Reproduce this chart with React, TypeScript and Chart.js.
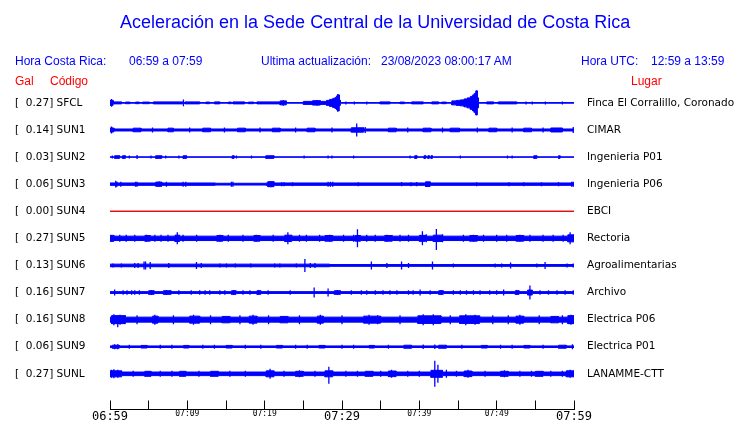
import React, { useEffect, useRef } from "react";
import { Chart, registerables } from "chart.js";

Chart.register(...registerables);

// ---------- data ----------
const CODES = ["SFCL", "SUN1", "SUN2", "SUN3", "SUN4", "SUN5", "SUN6", "SUN7", "SUN8", "SUN9", "SUNL"];
const GAL = [0.27, 0.14, 0.03, 0.06, 0.0, 0.27, 0.13, 0.16, 0.16, 0.06, 0.27];
const PLACES = [
  "Finca El Corralillo, Coronado",
  "CIMAR",
  "Ingenieria P01",
  "Ingenieria P06",
  "EBCI",
  "Rectoria",
  "Agroalimentarias",
  "Archivo",
  "Electrica P06",
  "Electrica P01",
  "LANAMME-CTT",
];
// time axis (minutes after 06:59)
const TICK_MINUTES = [0, 5, 10, 15, 20, 25, 30, 35, 40, 45, 50, 55, 60];
const TIME_LABELS: Record<number, string> = {
  0: "06:59", 10: "07:09", 20: "07:19", 30: "07:29", 40: "07:39", 50: "07:49", 60: "07:59",
};
const MAJOR_MINUTES = [0, 30, 60];

// background noise half-amplitude per station
const BASE_AMP = [0.3, 1.0, 0.2, 1.2, 0, 2.2, 0.9, 0.9, 2.5, 0.8, 1.8];

// blocks: [startMin, endMin, halfAmp]
const SFCL_BLOCKS: [number, number, number][] = [
  [0, 0.4, 2.5], [0.4, 1.5, 1], [2.0, 2.6, 0.8], [3.3, 3.8, 0.8], [4.2, 5.1, 0.8], [5.6, 9.4, 1],
  [9.7, 11.6, 1], [12.4, 12.9, 0.8], [13.5, 14.2, 1], [15.3, 15.7, 0.8], [15.9, 17.4, 1], [17.9, 18.6, 0.8],
  [19.0, 22.0, 1], [22.0, 22.8, 2], [25.0, 26.2, 1.5], [26.2, 27.2, 2.2], [27.2, 28.0, 1.5],
  [28.0, 28.4, 2.5], [28.4, 28.8, 3.5], [28.8, 29.1, 4.5], [29.1, 29.3, 5.5], [29.3, 29.5, 7],
  [29.5, 29.65, 8], [29.65, 29.8, 2.5], [34.9, 36.2, 1], [37.5, 38.1, 0.8], [39.0, 40.5, 1],
  [41.6, 42.5, 1], [42.9, 43.5, 0.8], [44.2, 44.8, 2], [44.8, 45.3, 2.5], [45.3, 45.8, 3],
  [45.8, 46.2, 4], [46.2, 46.6, 5], [46.6, 46.9, 6.5], [46.9, 47.1, 8], [47.1, 47.3, 9.5],
  [47.3, 47.5, 12], [47.5, 47.65, 5], [48.7, 49.6, 1], [50.2, 52.6, 1],
];
const SUN1_BLOCKS: [number, number, number][] = [
  [0, 0.5, 2], [3.0, 4.0, 1.8], [7.5, 8.2, 1.8], [12.0, 13.0, 1.8], [16.5, 17.5, 1.8], [21.0, 22.0, 1.8],
  [25.5, 26.5, 1.8], [31.2, 32.8, 2.2], [36.0, 37.0, 1.8], [40.5, 41.5, 1.8], [44.0, 45.2, 1.8],
  [49.0, 50.0, 1.8], [53.5, 54.5, 1.8], [57.0, 58.5, 2],
];
const SUN2_BLOCKS: [number, number, number][] = [
  [0.6, 1.25, 1.3], [1.6, 2.0, 1.3], [5.9, 6.7, 1.3], [9.45, 9.9, 1.3], [15.8, 16.05, 1.3], [20.15, 21.2, 1.3],
  [39.4, 39.7, 1.3], [40.6, 40.85, 1.3], [41.1, 41.3, 1.3], [41.5, 41.7, 1.3], [54.8, 55.2, 1.3], [58.0, 58.2, 1.3],
];
const SUN3_BLOCKS: [number, number, number][] = [
  [5.9, 6.7, 2.0], [13.6, 20.2, 0.9], [20.4, 21.2, 2.5], [40.8, 41.4, 2.3],
];
const SUN4_BLOCKS: [number, number, number][] = [];
const SUN5_BLOCKS: [number, number, number][] = [
  [0, 0.5, 3], [4.5, 5.2, 2.8], [8.4, 9.0, 3.2], [13.8, 14.6, 2.8], [18.6, 19.4, 2.8], [22.6, 23.5, 3.2],
  [27.8, 28.8, 2.8], [31.7, 32.4, 2.8], [35.5, 36.5, 2.8], [40.0, 40.8, 3], [41.8, 43.0, 3.2],
  [46.5, 47.5, 2.8], [52.5, 53.5, 2.8], [59.2, 60, 3.5],
];
const SUN6_BLOCKS: [number, number, number][] = [[0, 28.4, 1.3]];
const SUN7_BLOCKS: [number, number, number][] = [
  [5.0, 5.7, 1.8], [6.9, 7.9, 1.8], [15.7, 16.3, 1.8], [19.0, 19.5, 1.8], [29.0, 29.8, 1.8],
  [42.5, 43.1, 1.8], [52.4, 52.9, 1.8], [54.0, 54.6, 2.5],
];
const SUN8_BLOCKS: [number, number, number][] = [
  [0.2, 2.0, 4], [5.5, 6.2, 3.5], [10.3, 11.6, 3.5], [14.5, 15.5, 3.2], [18.0, 19.0, 3.5], [22.0, 23.0, 3.2],
  [26.8, 27.6, 3.5], [32.8, 35.0, 3.5], [39.8, 42.8, 3.8], [45.2, 47.8, 3.8], [52.5, 53.5, 3.5],
  [57.0, 58.0, 3.2], [59.2, 60, 4],
];
const SUN9_BLOCKS: [number, number, number][] = [
  [0.3, 1.2, 1.5], [4.0, 4.8, 1.3], [9.5, 10.2, 1.3], [15.0, 15.8, 1.3], [21.5, 22.3, 1.3], [27.0, 27.8, 1.3],
  [33.5, 34.2, 1.3], [38.0, 39.0, 1.5], [42.5, 43.5, 1.5], [48.0, 48.8, 1.3], [53.5, 54.3, 1.3], [58.0, 59.0, 1.5],
];
const SUNL_BLOCKS: [number, number, number][] = [
  [0, 1.5, 3], [4.5, 5.3, 2.5], [9.0, 9.8, 2.5], [13.0, 14.0, 2.5], [20.2, 21.2, 3], [24.0, 25.0, 2.5],
  [27.8, 28.8, 3], [33.0, 34.0, 2.5], [36.0, 37.0, 2.8], [41.5, 43.0, 3.5], [45.8, 46.8, 2.8],
  [50.5, 51.5, 2.5], [55.0, 56.0, 2.5], [59.0, 60, 3],
];

// spikes: [minute, upAmp, downAmp?]
const SFCL_SPIKES: number[][] = [
  [0.2, 4], [9.5, 3.5], [22.4, 3], [26.8, 3], [29.45, 9], [30.5, 1.5], [31.6, 1.5], [33.2, 1.5],
  [47.4, 12.5], [53.8, 1.5], [54.6, 1.5], [56.3, 1.5], [58.5, 1.5],
];
const SUN1_SPIKES: number[][] = [
  [0.2, 3.5], [5.5, 2.5], [10.3, 2.5], [14.8, 2.5], [19.4, 2.5], [24.0, 2.5], [28.7, 2.5], [31.9, 6.5],
  [33.0, 3], [38.5, 2.5], [43.0, 2.5], [47.5, 2.5], [52.0, 2.5], [56.0, 2.5], [59.9, 3],
];
const SUN2_SPIKES: number[][] = [
  [0.3, 1.5], [2.5, 1.5], [3.5, 2], [5.3, 1.5], [7.2, 1.5], [8.9, 1.5], [16.35, 1.5], [18.3, 1.5],
  [25.1, 1.5], [28.2, 1.5], [28.7, 1.5], [31.5, 1.5], [38.8, 1.5], [45.3, 1.5], [51.4, 1.5], [52.0, 1.5],
];
const SUN3_SPIKES: number[][] = [
  [0.74, 3.3], [0.9, 2.5], [1.4, 2.5], [3.3, 2.5], [3.5, 2.5], [6.1, 2.5], [6.35, 2.8], [6.6, 2.5],
  [7.3, 2.5], [9.45, 2.5], [9.8, 2.5], [15.7, 2.5], [15.9, 2.5], [20.8, 3], [22.2, 2], [22.5, 2],
  [23.6, 2], [28.2, 2.5], [28.5, 2.5], [28.8, 2.5], [32.1, 2], [37.7, 2.2], [38.9, 2], [39.65, 2.2],
  [40.9, 2.5], [47.4, 2], [51.6, 2], [53.5, 2], [55.8, 2], [58.0, 2.2], [59.7, 2.5], [59.9, 2.5],
];
const SUN4_SPIKES: number[][] = [];
const SUN5_SPIKES: number[][] = [
  [1.26, 3.5], [2.1, 3.5], [3.2, 3.5], [4.7, 3.5], [5.8, 3.5], [6.6, 3.5], [7.5, 3.5], [8.7, 6],
  [9.45, 3.5], [11.2, 3.5], [14.2, 3.5], [15.3, 3.5], [17.2, 3.5], [18.9, 3.5], [21.1, 3.5], [23.0, 6],
  [24.5, 3.5], [25.4, 3.5], [27.1, 3.5], [28.4, 3.5], [30.2, 3.5], [31.5, 3.5], [32.0, 9], [33.2, 3.5],
  [34.3, 3.5], [35.8, 3.5], [37.5, 3.5], [38.6, 3.5], [40.4, 7], [40.9, 4], [42.2, 9.3, 11.7], [43.0, 4],
  [45.7, 3.5], [47.0, 3.5], [48.3, 3.5], [50.0, 3.5], [51.3, 3.5], [53.0, 3.5], [54.3, 3.5], [56.0, 3.5],
  [57.3, 3.5], [58.6, 3.5], [59.5, 6],
];
const SUN6_SPIKES: number[][] = [
  [0.39, 2], [1.47, 2], [3.2, 2.5], [3.63, 2.5], [4.4, 4], [4.6, 4], [5.2, 3.5], [7.6, 2.5], [11.18, 3.5],
  [11.8, 2.5], [14.2, 2], [15.06, 2], [16.2, 2], [18.2, 2], [21.3, 2], [21.96, 2], [24.1, 2], [25.2, 6.5],
  [25.9, 2.5], [26.5, 2.5], [33.8, 4], [35.8, 2.5], [37.7, 4], [38.6, 2.5], [41.7, 4], [44.4, 2],
  [49.8, 2], [50.65, 2], [51.8, 3], [55.2, 2], [56.26, 3.5], [59.1, 2], [59.9, 2],
];
const SUN7_SPIKES: number[][] = [
  [0.6, 3], [1.7, 2.3], [2.2, 2.3], [2.8, 2.3], [3.2, 2.3], [3.8, 2.3], [5.35, 2.5], [7.3, 2.5], [8.9, 2.3],
  [10.5, 2.3], [11.6, 2.3], [12.3, 2.3], [12.9, 2.3], [14.2, 2.3], [14.85, 2.3], [16.0, 2.5], [17.2, 2.3],
  [18.1, 2.3], [19.2, 2.3], [20.45, 2.3], [23.3, 2.3], [26.4, 5], [28.2, 4], [29.4, 2.5], [31.2, 2.3],
  [32.5, 2.3], [33.2, 2.3], [34.3, 2.3], [35.3, 2.3], [36.2, 2.3], [37.1, 2.3], [38.6, 2.3], [39.2, 2.3],
  [40.1, 3], [41.4, 2.3], [42.8, 2.5], [44.4, 2.3], [45.3, 2.3], [46.1, 2.3], [47.0, 2.3], [47.85, 2.3],
  [49.1, 2.3], [50.0, 2.3], [50.9, 3], [52.6, 2.5], [54.3, 7], [55.6, 2.3], [56.7, 2.3], [57.8, 2.3],
  [58.85, 2.3], [59.9, 2.3],
];
const SUN8_SPIKES: number[][] = [
  [0.5, 5.5], [1.0, 4.5, 7.5], [1.3, 5], [3.5, 4.5], [5.8, 5], [8.2, 4.5], [10.8, 5], [13.0, 4.5],
  [16.8, 4.5], [18.5, 5], [20.5, 4.5], [24.5, 4.5], [27.2, 5], [30.0, 4.5], [33.5, 5], [34.6, 4.5],
  [37.5, 4.5], [40.5, 5.5], [41.8, 5.5], [44.0, 4.5], [46.0, 5.5], [47.2, 5], [49.5, 4.5], [51.5, 4.5],
  [53.0, 5], [55.5, 4.5], [58.5, 4.5], [59.6, 5],
];
const SUN9_SPIKES: number[][] = [
  [0.6, 2.5], [1.0, 2.5], [2.5, 2], [6.5, 2], [8.0, 2], [12.0, 2], [13.5, 2], [17.5, 2], [19.5, 2],
  [24.0, 2], [25.5, 2], [30.0, 2], [31.5, 2], [36.0, 2], [40.5, 2.2], [42.0, 2.2], [45.5, 2], [50.5, 2],
  [52.0, 2], [56.0, 2], [59.8, 2.5],
];
const SUNL_SPIKES: number[][] = [
  [0.2, 4], [0.5, 4.5], [1.0, 4], [3.0, 3], [6.5, 3], [8.0, 3], [11.5, 3], [15.5, 3], [17.5, 3],
  [20.7, 5], [22.5, 3], [24.5, 3.5], [26.5, 3], [28.3, 7, 10], [30.5, 3], [32.0, 3], [35.0, 3],
  [36.4, 4], [38.5, 3], [40.0, 3], [42.0, 13, 13], [42.4, 9], [43.5, 4], [44.8, 3], [46.3, 4],
  [48.5, 3], [51.0, 3.5], [53.0, 3], [54.5, 3], [57.0, 3], [58.5, 3], [59.5, 4],
];

const BLOCKS = [SFCL_BLOCKS, SUN1_BLOCKS, SUN2_BLOCKS, SUN3_BLOCKS, SUN4_BLOCKS, SUN5_BLOCKS, SUN6_BLOCKS, SUN7_BLOCKS, SUN8_BLOCKS, SUN9_BLOCKS, SUNL_BLOCKS];
const SPIKES = [SFCL_SPIKES, SUN1_SPIKES, SUN2_SPIKES, SUN3_SPIKES, SUN4_SPIKES, SUN5_SPIKES, SUN6_SPIKES, SUN7_SPIKES, SUN8_SPIKES, SUN9_SPIKES, SUNL_SPIKES];

// ---------- styling ----------
const AMP_PER_ROW = 27.1;
const WAVE_BLUE = "#0000ff";
const FLAT_RED = "#dd0000";
const TEXT_BLUE = "#0000ff";
const TEXT_RED = "#ff0000";

function buildDatasets() {
  const sets: any[] = [];
  CODES.forEach((code, row) => {
    const color = GAL[row] === 0 ? FLAT_RED : WAVE_BLUE;
    const base = BASE_AMP[row];
    const band = (sign: number) => {
      const yb = row + (sign * base) / AMP_PER_ROW;
      const pts: { x: number; y: number }[] = [{ x: 0, y: yb }];
      for (const [s, e, a] of BLOCKS[row]) {
        const ya = row + (sign * a) / AMP_PER_ROW;
        pts.push({ x: s, y: yb }, { x: s, y: ya }, { x: e, y: ya }, { x: e, y: yb });
      }
      pts.push({ x: 60, y: yb });
      return pts;
    };
    sets.push({
      label: code + "-up",
      data: band(-1),
      borderColor: color,
      backgroundColor: color,
      borderWidth: 1,
      pointRadius: 0,
      tension: 0,
      fill: "+1",
    });
    sets.push({
      label: code + "-down",
      data: band(1),
      borderColor: color,
      backgroundColor: color,
      borderWidth: 1,
      pointRadius: 0,
      tension: 0,
      fill: false,
    });
    const sp: { x: number; y: number | null }[] = [];
    for (const s of SPIKES[row]) {
      const up = s[1];
      const down = s.length > 2 ? s[2] : s[1];
      sp.push({ x: s[0], y: row - up / AMP_PER_ROW });
      sp.push({ x: s[0], y: row + down / AMP_PER_ROW });
      sp.push({ x: s[0], y: null });
    }
    sets.push({
      label: code + "-spikes",
      data: sp,
      borderColor: color,
      borderWidth: 1.3,
      pointRadius: 0,
      spanGaps: false,
      fill: false,
    });
  });
  return sets;
}

const ROWS = CODES.map((_, i) => i);

export default function App() {
  const ref = useRef<HTMLCanvasElement | null>(null);

  useEffect(() => {
    if (!ref.current) return;
    const chart = new Chart(ref.current, {
      type: "line",
      data: { datasets: buildDatasets() },
      options: {
        animation: false,
        responsive: false,
        events: [],
        layout: { padding: { left: 15, right: 0, top: 81.2, bottom: 0 } },
        plugins: { legend: { display: false }, tooltip: { enabled: false }, title: { display: false } },
        scales: {
          x: {
            type: "linear",
            min: 0,
            max: 60,
            afterBuildTicks: (scale: any) => {
              scale.ticks = TICK_MINUTES.map((v) => ({ value: v }));
            },
            afterFit: (scale: any) => {
              scale.height = 13.5;
            },
            ticks: {
              autoSkip: false,
              maxRotation: 0,
              padding: 9,
              color: "#000",
              callback: (v: any) => TIME_LABELS[v as number] ?? "",
              font: (ctx: any) => ({
                family: '"DejaVu Sans Mono", monospace',
                size: ctx.tick && MAJOR_MINUTES.includes(ctx.tick.value) ? 12 : 8,
              }),
            },
            grid: {
              display: true,
              drawOnChartArea: false,
              drawTicks: true,
              tickLength: -9,
              color: "#000",
              lineWidth: 1,
            },
            border: { display: true, color: "#000", width: 1 },
          },
          y: {
            type: "linear",
            position: "left",
            min: -0.8,
            max: 11.317,
            reverse: true,
            afterBuildTicks: (scale: any) => {
              scale.ticks = ROWS.map((v) => ({ value: v }));
            },
            afterFit: (scale: any) => {
              scale.width = 95;
            },
            ticks: {
              crossAlign: "far",
              padding: 0,
              color: "#000",
              font: { family: '"DejaVu Sans", sans-serif', size: 10.5 },
              callback: (v: any) => `[  ${GAL[v as number].toFixed(2)}] ${CODES[v as number]}`,
            },
            grid: { display: false, drawTicks: false },
            border: { display: false },
          },
          yR: {
            type: "linear",
            position: "right",
            min: -0.8,
            max: 11.317,
            reverse: true,
            afterBuildTicks: (scale: any) => {
              scale.ticks = ROWS.map((v) => ({ value: v }));
            },
            afterFit: (scale: any) => {
              scale.width = 166;
            },
            ticks: {
              padding: 0,
              color: "#000",
              font: { family: '"DejaVu Sans", sans-serif', size: 10.5 },
              callback: (v: any) => PLACES[v as number],
            },
            grid: { display: false, drawTicks: true, tickLength: 13 },
            border: { display: false },
          },
        },
      } as any,
    });
    return () => chart.destroy();
  }, []);

  const txt = (s: string, left: number, top: number, color: string, size = 12) => (
    <span
      style={{
        position: "absolute",
        left,
        top,
        color,
        fontFamily: '"Liberation Sans", Arial, sans-serif',
        fontSize: size,
        lineHeight: "1",
        whiteSpace: "pre",
      }}
    >
      {s}
    </span>
  );

  return (
    <div style={{ position: "absolute", left: 0, top: 0, width: 740, height: 423, background: "#fff", overflow: "hidden" }}>
      <canvas ref={ref} width={740} height={423} style={{ position: "absolute", left: 0, top: 0 }} />
      {txt("Aceleración en la Sede Central de la Universidad de Costa Rica", 120, 13, TEXT_BLUE, 18)}
      {txt("Hora Costa Rica:", 15, 54.8, TEXT_BLUE)}
      {txt("06:59 a 07:59", 129, 54.8, TEXT_BLUE)}
      {txt("Ultima actualización:", 261, 54.8, TEXT_BLUE)}
      {txt("23/08/2023 08:00:17 AM", 381, 54.8, TEXT_BLUE)}
      {txt("Hora UTC:", 581, 54.8, TEXT_BLUE)}
      {txt("12:59 a 13:59", 651, 54.8, TEXT_BLUE)}
      {txt("Gal", 15, 74.8, TEXT_RED)}
      {txt("Código", 50, 74.8, TEXT_RED)}
      {txt("Lugar", 631, 74.8, TEXT_RED)}
    </div>
  );
}
